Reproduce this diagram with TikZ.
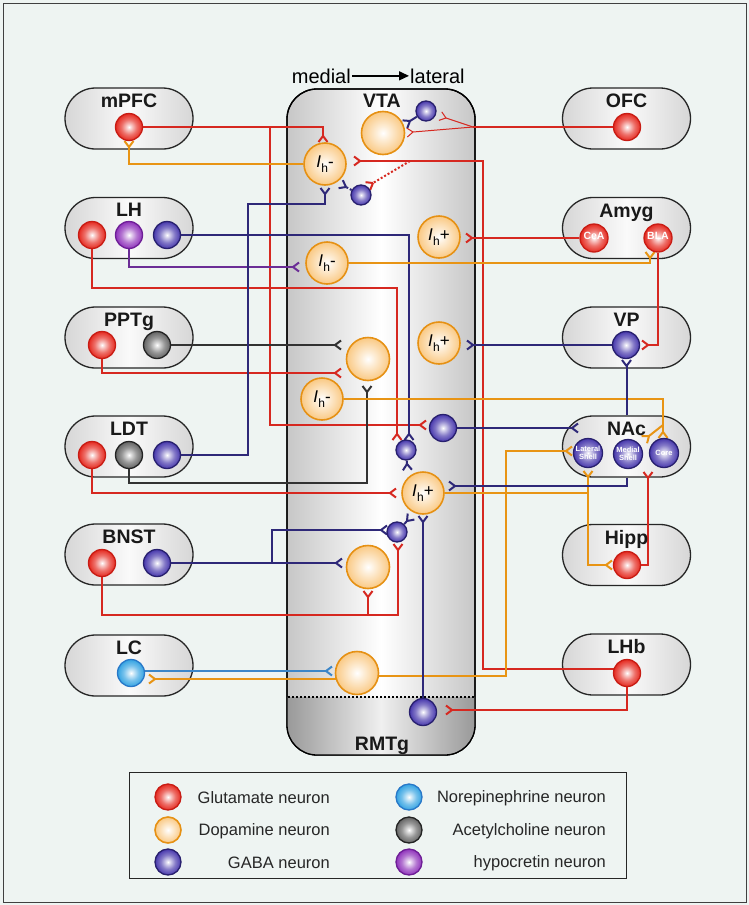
\documentclass[tikz,border=0pt]{standalone}
\usepackage{fontspec}
\setmainfont{Liberation Sans}
\usetikzlibrary{decorations.markings,arrows.meta}
\definecolor{bgc}{RGB}{238,244,242}
\definecolor{fglu}{RGB}{228,36,26}
\definecolor{dglu}{RGB}{200,28,20}
\definecolor{lglu}{RGB}{214,40,32}
\definecolor{fda}{RGB}{246,165,50}
\definecolor{dda}{RGB}{230,145,20}
\definecolor{lda}{RGB}{232,148,20}
\definecolor{fgaba}{RGB}{66,50,170}
\definecolor{dgaba}{RGB}{40,32,110}
\definecolor{lgaba}{RGB}{46,40,120}
\definecolor{fach}{RGB}{95,95,95}
\definecolor{dach}{RGB}{35,35,35}
\definecolor{lach}{RGB}{50,50,50}
\definecolor{fhcrt}{RGB}{140,45,185}
\definecolor{dhcrt}{RGB}{110,30,150}
\definecolor{lhcrt}{RGB}{107,45,150}
\definecolor{fne}{RGB}{45,160,225}
\definecolor{dne}{RGB}{40,120,200}
\definecolor{lne}{RGB}{60,134,200}
\pgfdeclareradialshading{sglu}{\pgfpoint{0bp}{0bp}}{color(0bp)=(white); color(5bp)=(white!75!fglu); color(14bp)=(white!35!fglu); color(26bp)=(fglu); color(50bp)=(fglu!80!black)}
\pgfdeclareradialshading{sgaba}{\pgfpoint{0bp}{0bp}}{color(0bp)=(white); color(5bp)=(white!75!fgaba); color(14bp)=(white!35!fgaba); color(26bp)=(fgaba); color(50bp)=(fgaba!75!black)}
\pgfdeclareradialshading{sach}{\pgfpoint{0bp}{0bp}}{color(0bp)=(white); color(5bp)=(white!75!fach); color(14bp)=(white!35!fach); color(26bp)=(fach); color(50bp)=(fach!65!black)}
\pgfdeclareradialshading{shcrt}{\pgfpoint{0bp}{0bp}}{color(0bp)=(white); color(5bp)=(white!75!fhcrt); color(14bp)=(white!35!fhcrt); color(26bp)=(fhcrt); color(50bp)=(fhcrt!80!black)}
\pgfdeclareradialshading{sne}{\pgfpoint{0bp}{0bp}}{color(0bp)=(white); color(5bp)=(white!75!fne); color(14bp)=(white!35!fne); color(26bp)=(fne); color(50bp)=(fne!85!black)}
\pgfdeclareradialshading{sda}{\pgfpoint{0bp}{0bp}}{color(0bp)=(white); color(8bp)=(white!80!fda); color(25bp)=(white!40!fda); color(40bp)=(fda); color(50bp)=(fda!95!black)}
\pgfdeclarelayer{back}
\pgfdeclarelayer{wires}
\pgfsetlayers{back,wires,main}
\newcommand{\Ih}[1]{\textit{I}\kern0.3pt\raisebox{-0.5ex}{\fontsize{12}{12}\selectfont h}#1}
\begin{document}
\begin{tikzpicture}[x=1pt,y=-1pt,
  wire/.style={line width=2pt},
  wglu/.style={wire,color=lglu},
  wda/.style={wire,color=lda},
  wgaba/.style={wire,color=lgaba},
  wach/.style={wire,color=lach},
  whcrt/.style={wire,color=lhcrt},
  wne/.style={wire,color=lne},
  thinw/.style={line width=1pt},
  dotw/.style={dash pattern=on 2pt off 2pt},
  syn/.style={postaction={decorate,decoration={markings,mark=at position 1 with {\draw[solid] (0pt,0pt) -- (6pt,4.5pt) (0pt,0pt) -- (6pt,-4.5pt);}}}},
  neu/.style={circle,inner sep=0pt,line width=1.3pt,shade},
  nglu/.style={neu,minimum size=#1,draw=dglu,shading=sglu},
  nglu/.default=27pt,
  nda/.style={neu,minimum size=#1,draw=dda,line width=1.6pt,shading=sda,font=\fontsize{17}{17}\selectfont},
  nda/.default=43pt,
  ngaba/.style={neu,minimum size=#1,draw=dgaba,shading=sgaba},
  ngaba/.default=27pt,
  nach/.style={neu,minimum size=#1,draw=dach,shading=sach},
  nach/.default=27pt,
  nhcrt/.style={neu,minimum size=#1,draw=dhcrt,shading=shcrt},
  nhcrt/.default=27pt,
  nne/.style={neu,minimum size=#1,draw=dne,shading=sne},
  nne/.default=27pt,
  pill/.style={draw=black!85,line width=1.3pt,rounded corners=30.5pt,minimum width=128pt,minimum height=61pt,inner sep=0pt,left color=black!16,right color=black!16,middle color=black!2},
  lab/.style={anchor=base,inner sep=0pt,font=\fontsize{19.5}{20}\selectfont\bfseries,text=black!90},
  tiny/.style={text=white,font=\fontsize{7.5}{8}\selectfont\bfseries,align=center},
  legt/.style={anchor=east,inner sep=0pt,font=\fontsize{16.5}{17}\selectfont,text=black!85}
]
\useasboundingbox (0,0) rectangle (749,905);
\begin{pgfonlayer}{back}
\fill[bgc] (0,0) rectangle (749,905);
\draw[black!75,line width=1pt] (3,3) rectangle (746,902);
% VTA column
\draw[line width=1.3pt,rounded corners=30pt,left color=black!22,right color=black!22,middle color=white] (287,89) rectangle (475,755);
\begin{scope}
\clip[rounded corners=30pt] (287,89) rectangle (475,755);
\shade[left color=black!40,right color=black!40,middle color=black!6] (287,697) rectangle (475,760);
\end{scope}
\draw[line width=1.3pt,rounded corners=30pt] (287,89) rectangle (475,755);
\draw[line width=1.3pt,dash pattern=on 2pt off 2pt] (288,697) -- (474,697);
% pills
\node[pill] (pmpfc) at (129,118.5) {};
\node[pill] (plh) at (129,228) {};
\node[pill] (pppt) at (129,337.5) {};
\node[pill] (pldt) at (129,446.5) {};
\node[pill] (pbnst) at (129,554.5) {};
\node[pill] (plc) at (129,665.5) {};
\node[pill] (pofc) at (626.5,118.5) {};
\node[pill] (pamyg) at (626.5,228) {};
\node[pill] (pvp) at (626.5,337.5) {};
\node[pill] (pnac) at (626.5,446.5) {};
\node[pill] (phipp) at (626.5,555) {};
\node[pill] (plhb) at (626.5,664.5) {};
\end{pgfonlayer}
% labels
\node[lab] (tmpfc) at (129,107) {mPFC};
\node[lab] (tlh) at (129,216) {LH};
\node[lab] (tppt) at (129,326) {PPTg};
\node[lab] (tldt) at (129,435) {LDT};
\node[lab] (tbnst) at (129,543) {BNST};
\node[lab] (tlc) at (129,654) {LC};
\node[lab] (tofc) at (626.5,107) {OFC};
\node[lab] (tamyg) at (626.5,217) {Amyg};
\node[lab] (tvp) at (626.5,326) {VP};
\node[lab] (tnac) at (626.5,435) {NAc};
\node[lab] (thipp) at (626.5,544) {Hipp};
\node[lab] (tlhb) at (626.5,653) {LHb};
\node[lab] (tvta) at (382,107) {VTA};
\node[lab] (trmtg) at (382,750) {RMTg};
\node[anchor=base east,inner sep=1pt,font=\fontsize{20}{20}\selectfont] (med) at (352,83) {medial};
\node[anchor=base west,inner sep=1pt,font=\fontsize{20}{20}\selectfont] (lat) at (409,83) {lateral};
\draw[line width=1.5pt,-{Triangle[length=10pt,width=9pt]}] (med.east) -- (lat.west);
% side neurons
\node[nglu] (mpfc) at (129,127) {};
\node[nglu] (ofc) at (627,127) {};
\node[nglu] (lhR) at (92,235) {};
\node[nhcrt] (lhP) at (129,235) {};
\node[ngaba] (lhB) at (167,235) {};
\node[nglu=28pt,tiny,font=\fontsize{10.5}{11}\selectfont\bfseries] (cea) at (594,238) {\raisebox{4pt}{CeA}};
\node[nglu=28pt,tiny,font=\fontsize{10.5}{11}\selectfont\bfseries] (bla) at (658,238) {\raisebox{4pt}{BLA}};
\node[nglu] (pptR) at (102,345) {};
\node[nach] (pptA) at (157,345) {};
\node[ngaba] (vp) at (626,345) {};
\node[nglu] (ldtR) at (92,455) {};
\node[nach] (ldtA) at (129,455) {};
\node[ngaba] (ldtB) at (167,455) {};
\node[ngaba=29pt,tiny] (nacL) at (588,453) {Lateral\\Shell};
\node[ngaba=29pt,tiny] (nacM) at (628,454) {Medial\\Shell};
\node[ngaba=29pt,tiny] (nacC) at (664,453) {Core};
\node[nglu] (bnR) at (102,563) {};
\node[ngaba] (bnB) at (157,563) {};
\node[nglu] (hipp) at (627,565) {};
\node[nne] (lc) at (131,673) {};
\node[nglu] (lhb) at (627,673) {};
% VTA neurons
\node[nda] (da1) at (383,133) {};
\node[ngaba=20pt] (g1) at (426,111) {};
\node[nda=42pt] (ihm1) at (325,164) {\Ih{-}};
\node[ngaba=20pt] (g2) at (361,195) {};
\node[nda=42pt] (ihp1) at (439,237) {\Ih{+}};
\node[nda=42pt] (ihm2) at (327,263) {\Ih{-}};
\node[nda=42pt] (ihp2) at (439,343) {\Ih{+}};
\node[nda] (da2) at (368,359) {};
\node[nda=42pt] (ihm3) at (322,399) {\Ih{-}};
\node[ngaba] (g3) at (443,428) {};
\node[ngaba=20pt] (g4) at (406,450) {};
\node[nda=42pt] (ihp3) at (423,493) {\Ih{+}};
\node[ngaba=20pt] (g5) at (397,532) {};
\node[nda] (da3) at (368,567) {};
\node[nda] (da4) at (357,673) {};
\node[ngaba] (g6) at (423,712) {};
% synapse ends and junctions
\coordinate (s1) at (323,136);
\coordinate (s2) at (420,425);
\coordinate (s3) at (129,147);
\coordinate (s4) at (446,118);
\coordinate (s5) at (413,132);
\coordinate (s6) at (410,121);
\coordinate (s7) at (360,161);
\coordinate (s8) at (373,183);
\coordinate (s9) at (346,187);
\coordinate (s10) at (472,238);
\coordinate (s11) at (409,434);
\coordinate (s12) at (293,267);
\coordinate (s13) at (397,434);
\coordinate (s14) at (650,258);
\coordinate (s15) at (648,345);
\coordinate (s16) at (473,345);
\coordinate (s17) at (335,345);
\coordinate (s18) at (335,373);
\coordinate (s19) at (367,392);
\coordinate (s20) at (325,194);
\coordinate (s21) at (390,493);
\coordinate (s22) at (663,432);
\coordinate (s23) at (649,436);
\coordinate (s24) at (626.5,366);
\coordinate (s25) at (572,428);
\coordinate (s26) at (566,451);
\coordinate (s27) at (155,679);
\coordinate (s28) at (326,671);
\coordinate (s29) at (588,477);
\coordinate (s30) at (606,565);
\coordinate (s31) at (648,478);
\coordinate (s32) at (455,486);
\coordinate (s33) at (407,521);
\coordinate (s34) at (407,464);
\coordinate (s35) at (423,522);
\coordinate (s36) at (381,530);
\coordinate (s37) at (336,563);
\coordinate (s38) at (398,550);
\coordinate (s39) at (368,597);
\coordinate (s40) at (452,710);
\coordinate (j1) at (270,127);
\coordinate (j2) at (473,127);
\coordinate (j3) at (663,425);
\coordinate (j4) at (588,493);
\coordinate (j6) at (368,615);
\coordinate (j7) at (410,161);
\begin{pgfonlayer}{wires}
\draw[wglu,syn] (mpfc) -| (s1);
\draw[wglu,syn] (j1) |- (s2);
\draw[wda,syn] (ihm1) -| (s3);
\draw[wglu] (ofc) -- (j2);
\draw[wglu,thinw,syn] (j2) -- (s4);
\draw[wglu,thinw,syn] (j2) -- (s5);
\draw[wgaba,syn] (g1) -- (s6);
\draw[wglu,syn] ([yshift=4pt]lhb.center) -| (483,161) -- (s7);
\draw[wglu,dotw,syn] (j7) -- (s8);
\draw[wgaba,dotw,syn] (g2) -- (s9);
\draw[wglu,syn] (cea) -- (s10);
\draw[wgaba,syn] (lhB) -| (s11);
\draw[whcrt,syn] (lhP) |- (s12);
\draw[wglu,syn] (lhR) |- (397,288) -- (s13);
\draw[wda,syn] (ihm2) -| (s14);
\draw[wglu,syn] (bla) |- (s15);
\draw[wgaba,syn] (vp) -- (s16);
\draw[wach,syn] (pptA) -- (s17);
\draw[wglu,syn] (pptR) |- (s18);
\draw[wach,syn] (ldtA) |- (367,483) -- (s19);
\draw[wgaba,syn] (ldtB) -| (248,204) -| (s20);
\draw[wglu,syn] (ldtR) |- (s21);
\draw[wda,syn] (ihm3) -| (s22);
\draw[wda,syn] (j3) -- (s23);
\draw[wgaba,syn] (pnac.north) -- (s24);
\draw[wgaba,syn] (g3) -- (s25);
\draw[wda,syn] ([yshift=-3pt]da4.center) -| (506,451) -- (s26);
\draw[wda,syn] ([yshift=-6pt]da4.center) -- (s27);
\draw[wne,syn] ([yshift=2pt]lc.center) -- (s28);
\draw[wda,syn] (ihp3) -| (s29);
\draw[wda,syn] (j4) |- (s30);
\draw[wglu,syn] (hipp) -| (s31);
\draw[wgaba,syn] (pnac.south) |- (s32);
\draw[wgaba,syn] (g5) -- (s33);
\draw[wgaba,syn] (g4) -- (s34);
\draw[wgaba,syn] (g6) -- (s35);
\draw[wgaba,syn] (bnB) -| (272,530) -- (s36);
\draw[wgaba,syn] (bnB) -- (s37);
\draw[wglu,syn] (bnR) |- (398,615) -- (s38);
\draw[wglu,syn] (j6) -- (s39);
\draw[wglu,syn] (lhb) |- (s40);
\end{pgfonlayer}
% legend
\node[draw=black!85,line width=1pt,minimum width=497pt,minimum height=106pt,inner sep=0pt] (legend) at (377.5,825) {};
\node[nglu=26pt] (lg1) at (168,797) {};
\node[nda=26pt] (lg2) at (168,830) {};
\node[ngaba=26pt] (lg3) at (168,862) {};
\node[nne=26pt] (lg4) at (409,797) {};
\node[nach=26pt] (lg5) at (409,830) {};
\node[nhcrt=26pt] (lg6) at (409,862) {};
\node[legt] (lt1) at (330,798) {Glutamate neuron};
\node[legt] (lt2) at (330,831) {Dopamine neuron};
\node[legt] (lt3) at (330,863) {GABA neuron};
\node[legt] (lt4) at (606,798) {Norepinephrine neuron};
\node[legt] (lt5) at (606,831) {Acetylcholine neuron};
\node[legt] (lt6) at (606,863) {hypocretin neuron};
\end{tikzpicture}
\end{document}
